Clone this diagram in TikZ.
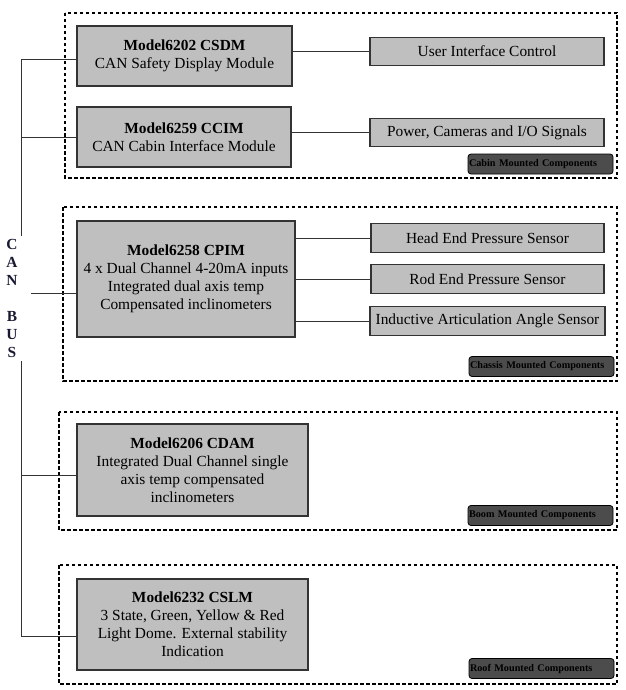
\documentclass[tikz,border=0pt]{standalone}
\usepackage{fontspec}
\setmainfont{Liberation Serif}
\usepackage{tikz}

\definecolor{busink}{RGB}{25,25,50}

\begin{document}
\begin{tikzpicture}[x=1pt,y=-1pt,
  modbox/.style n args={2}{draw=black!80,fill=black!25,line width=1.2pt,minimum width=#1,minimum height=#2,align=center,inner sep=0pt,font=\fontsize{15.4}{18}\selectfont},
  sigbox/.style={modbox={#1}{28.5}},
  grpbox/.style={draw=black,line width=1.6pt,dash pattern=on 3.5pt off 2.5pt},
  grplabel/.style={draw=black,fill=black!70,line width=0.8pt,rounded corners=3pt,minimum width=145,minimum height=20,text width=143,align=left,inner xsep=1pt,inner ysep=0pt,font=\fontsize{10.2}{12}\selectfont\bfseries},
  bus/.style={draw=black!80,line width=0.9pt}]
\useasboundingbox (0,0) rectangle (625,690);

% mounting groups
\foreach \xa/\ya/\yb/\lx/\ly/\name in %
{65/13/178/540.5/164/Cabin,63/207/381/541.5/366.5/Chassis,59/412/530/540.5/515.5/Boom,59/565/684/541.5/668.5/Roof} {
   \draw[grpbox] (\xa,\ya) rectangle (617,\yb);
   \node[grplabel] (lab\name) at (\lx,\ly) {\name{} Mounted Components};
}

% modules
\node[modbox={215}{60}] (csdm) at (184.5,56) {\textbf{Model6202 CSDM}\\CAN Safety Display Module};
\node[modbox={214}{60}] (ccim) at (184,137) {\textbf{Model6259 CCIM}\\CAN Cabin Interface Module};
\node[modbox={218}{116}] (cpim) at (186,279) {\textbf{Model6258 CPIM}\\4 x Dual Channel 4-20mA inputs\\Integrated dual axis temp\\Compensated inclinometers};
\node[modbox={231}{92}] (cdam) at (192.5,470) {\textbf{Model6206 CDAM}\\Integrated Dual Channel single\\axis temp compensated\\inclinometers};
\node[modbox={231}{91}] (cslm) at (192.5,624.5) {\textbf{Model6232 CSLM}\\3 State, Green, Yellow \& Red\\Light Dome. External stability\\Indication};

% signals and sensors
\node[sigbox=234] (uic) at (487,51.5) {User Interface Control};
\node[sigbox=234] (pwr) at (487,132.5) {Power, Cameras and I/O Signals};
\node[sigbox=233] (head) at (487.5,238) {Head End Pressure Sensor};
\node[sigbox=233] (rod) at (487.5,279) {Rod End Pressure Sensor};
\node[sigbox=235] (ias) at (487.5,321) {Inductive Articulation Angle Sensor};

\foreach \a/\b in %
{csdm/uic,ccim/pwr,cpim/head,cpim/rod,cpim/ias} {
   \draw[bus] (\b.west -| \a.east) -- (\b.west);
}

% CAN bus
\node[text=busink,minimum width=38,inner xsep=0pt,inner ysep=3pt,align=center,font=\fontsize{15.4}{18}\selectfont\bfseries] (bus) at (12,298.5) {C\\A\\N\\{}\\B\\U\\S};
\coordinate (bustop) at (21,59);
\coordinate (busbot) at (21,636);
\coordinate (cpimin) at (77,293);
\coordinate (cdamin) at (77,475);
\draw[bus] (bustop) -- (bustop |- bus.north);
\draw[bus] (busbot |- bus.south) -- (busbot);
\draw[bus] (bustop) -- (bustop -| csdm.west);
\draw[bus] (bustop |- ccim.west) -- (ccim.west);
\draw[bus] (bus.east |- cpimin) -- (cpimin);
\draw[bus] (bustop |- cdamin) -- (cdamin);
\draw[bus] (busbot) -- (busbot -| cslm.west);
\end{tikzpicture}
\end{document}
